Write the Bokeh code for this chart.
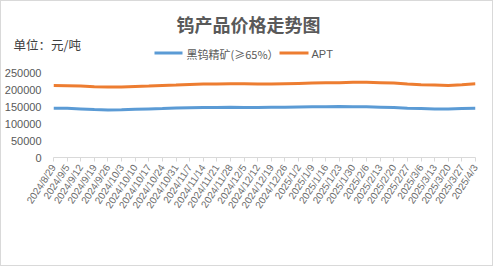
from bokeh.plotting import figure
from bokeh.layouts import column
from bokeh.models import Range1d, FixedTicker
from bokeh.core.properties import value
from bokeh.embed import file_html
from bokeh.resources import INLINE

dates = ["2024/8/29", "2024/9/5", "2024/9/12", "2024/9/19", "2024/9/26", "2024/10/3",
         "2024/10/10", "2024/10/17", "2024/10/24", "2024/10/31", "2024/11/7", "2024/11/14",
         "2024/11/21", "2024/11/28", "2024/12/5", "2024/12/12", "2024/12/19", "2024/12/26",
         "2025/1/2", "2025/1/9", "2025/1/16", "2025/1/23", "2025/1/30", "2025/2/6",
         "2025/2/13", "2025/2/20", "2025/2/27", "2025/3/6", "2025/3/13", "2025/3/20",
         "2025/3/27", "2025/4/3"]

wolframite = [145000, 144500, 143000, 141000, 140000, 140500, 142000, 143000, 144000, 145500,
              146500, 147000, 147000, 147500, 147000, 147000, 147500, 148000, 148500, 149000,
              149500, 150000, 149500, 149000, 148000, 147000, 145000, 144000, 143000, 143000,
              144000, 145000]

apt = [212000, 211000, 210000, 208000, 207000, 207000, 209000, 210000, 212000, 213000,
       215000, 216000, 216000, 217000, 217000, 216000, 216000, 217000, 218000, 219000,
       220000, 220000, 221000, 221000, 220000, 219000, 216000, 214000, 213000, 212000,
       214000, 217000]

y_ticks = [0, 50000, 100000, 150000, 200000, 250000]

series_names = ["黑钨精矿(≥65%）", "APT"]
series_colors = ["#5B9BD5", "#ED7D31"]
title_text = "钨产品价格走势图"
unit_text = "单位：元/吨"

W = 491
HEAD_H = 64
MAIN_H = 264 - HEAD_H

# ---------- header (title, unit, legend) ----------
h = figure(width=W, height=HEAD_H, output_backend="svg", toolbar_location=None,
           x_axis_type=None, y_axis_type=None,
           x_range=Range1d(0, W), y_range=Range1d(HEAD_H, 0),
           min_border=0, min_border_left=0, min_border_right=0,
           min_border_top=0, min_border_bottom=0)
h.frame_align = False
h.grid.visible = False
h.outline_line_color = None
h.border_fill_color = "white"
h.background_fill_color = "white"

h.text(x=[247], y=[22], text=[title_text], text_font=value("Noto Sans CJK SC"),
       text_font_size="18px", text_font_style="bold", text_color="#595959",
       text_align="center", text_baseline="middle")
h.text(x=[12], y=[43], text=[unit_text], text_font=value("Noto Sans CJK SC"),
       text_font_size="12.5px", text_color="#404040",
       text_align="left", text_baseline="middle")
# legend
h.segment(x0=[153], y0=[51.5], x1=[181], y1=[51.5], line_color=series_colors[0], line_width=3)
h.text(x=[185], y=[52], text=[series_names[0]], text_font=value("Noto Sans CJK SC"),
       text_font_size="11px", text_color="#595959", text_align="left", text_baseline="middle")
h.segment(x0=[278], y0=[51.5], x1=[307], y1=[51.5], line_color=series_colors[1], line_width=3)
h.text(x=[310], y=[52], text=[series_names[1]], text_font=value("Liberation Sans"),
       text_font_size="11px", text_color="#595959", text_align="left", text_baseline="middle")

# ---------- main chart ----------
x = list(range(len(dates)))
p = figure(width=W, height=MAIN_H, output_backend="svg", toolbar_location=None,
           x_range=Range1d(0, len(dates) - 1), y_range=Range1d(0, 250000),
           min_border_left=52, min_border_right=17, min_border_top=71 - HEAD_H,
           min_border_bottom=108)
p.frame_align = False
p.outline_line_color = None
p.grid.visible = False
p.background_fill_color = "white"
p.border_fill_color = "white"

p.line(x, wolframite, line_color=series_colors[0], line_width=3)
p.line(x, apt, line_color=series_colors[1], line_width=3)

p.yaxis.ticker = FixedTicker(ticks=y_ticks)
p.yaxis.axis_line_color = None
p.yaxis.major_tick_line_color = None
p.yaxis.minor_tick_line_color = None
p.yaxis.major_label_text_font = "Liberation Sans"
p.yaxis.major_label_text_font_size = "11px"
p.yaxis.major_label_text_color = "#595959"
p.yaxis.major_label_standoff = 6
p.yaxis.formatter.use_scientific = False

p.xaxis.ticker = FixedTicker(ticks=x)
p.xaxis.major_label_overrides = {i: d for i, d in enumerate(dates)}
p.xaxis.axis_line_color = "#d9d9d9"
p.xaxis.major_tick_line_color = "#d9d9d9"
p.xaxis.major_tick_in = 0
p.xaxis.major_tick_out = 4
p.xaxis.minor_tick_line_color = None
p.xaxis.major_label_orientation = 0.99
p.xaxis.major_label_text_font = "Liberation Sans"
p.xaxis.major_label_text_font_size = "10px"
p.xaxis.major_label_text_color = "#6b6b6b"
p.xaxis.major_label_standoff = 4

layout = column(h, p, spacing=0, styles={"border": "1px solid #d9d9d9"})
open("out.html", "w").write(file_html(layout, INLINE))
